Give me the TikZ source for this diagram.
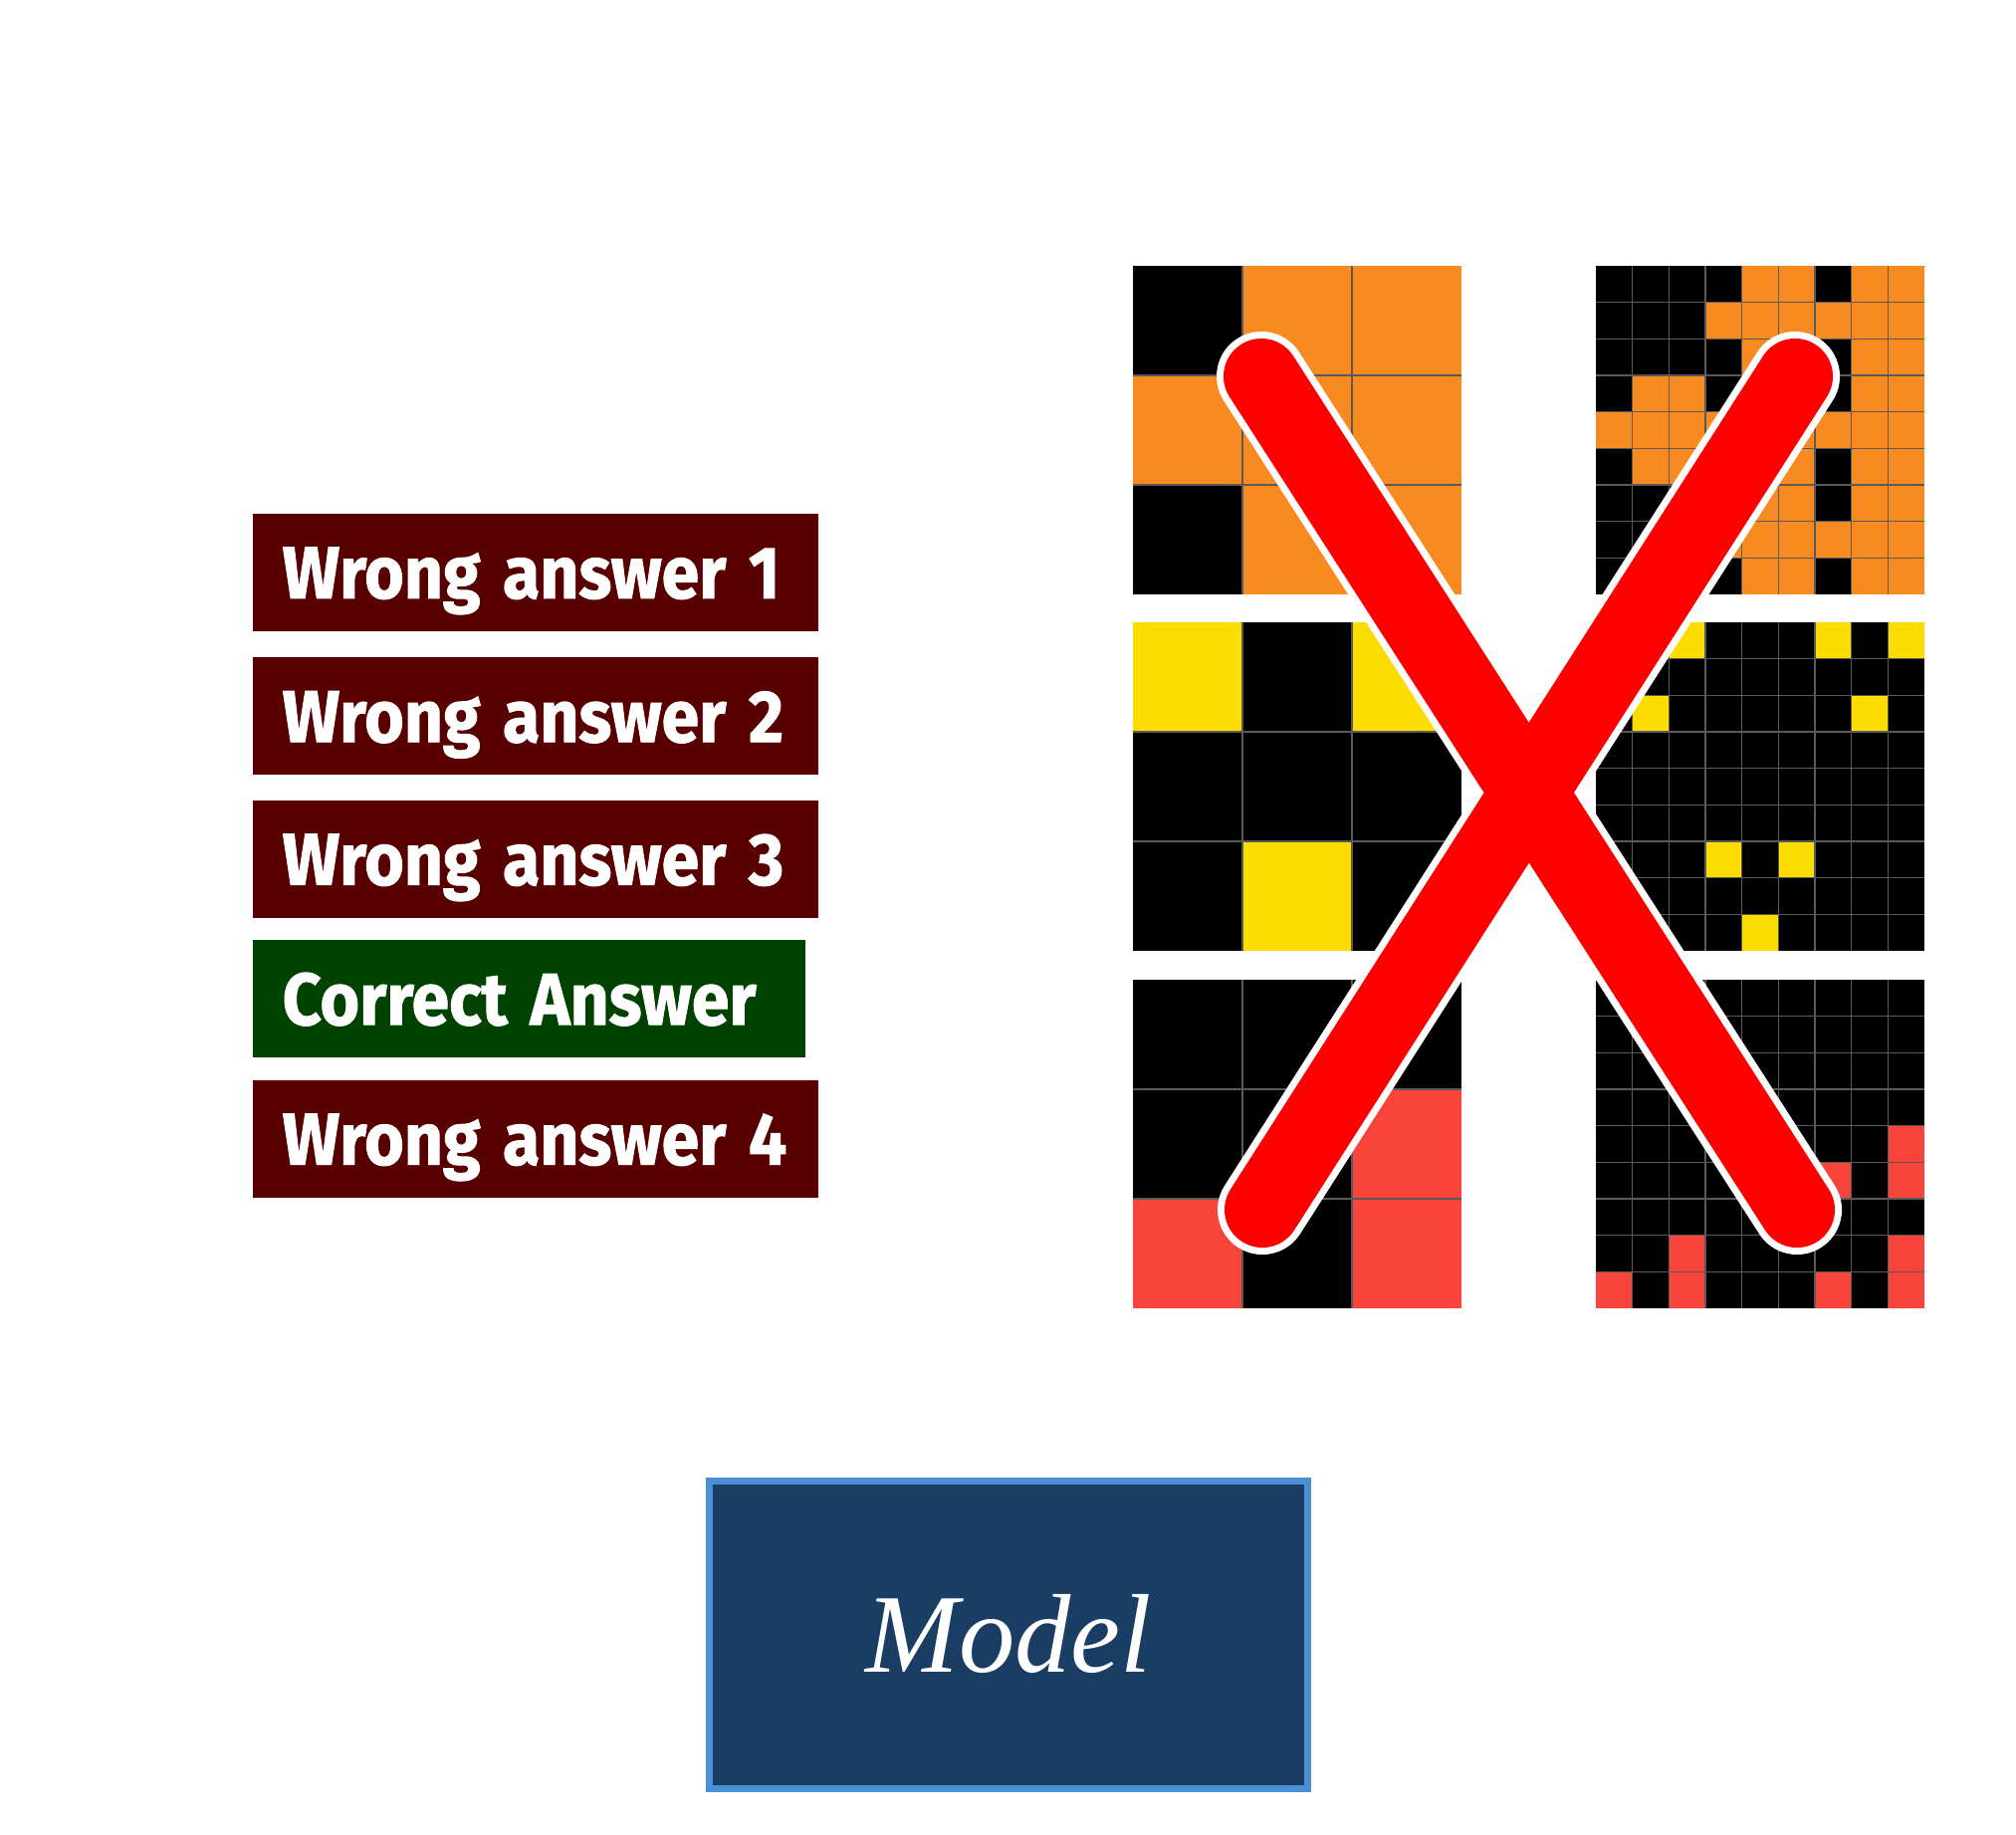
\documentclass[tikz,border=0pt]{standalone}
\usepackage{fontspec}
\usepackage{graphicx}
\usepackage{tikz}
\usetikzlibrary{positioning}
\newfontfamily\answerfont{Fira Sans}[BoldFeatures={FakeBold=1.3}]
\newfontfamily\modelfont{Liberation Serif}
\newcommand{\tight}[1]{\scalebox{0.92}[1]{#1}}

\definecolor{wrongred}{HTML}{580000}
\definecolor{rightgreen}{HTML}{004200}
\definecolor{modelblue}{HTML}{1A3D64}
\definecolor{modeledge}{HTML}{4A90D6}
\definecolor{gridgray}{HTML}{5A5A5A}
\definecolor{arcorange}{HTML}{F88A22}
\definecolor{arcyellow}{HTML}{FDDC00}
\definecolor{arcred}{HTML}{F9443C}

\tikzset{
  answerbox/.style={rectangle, anchor=north west, minimum height=1.18cm, inner xsep=0.3cm,
    text width=5.08cm, align=left, text=white, text height=0.52cm, text depth=0pt,
    font=\answerfont\bfseries\fontsize{21}{24}\selectfont},
  wrongbox/.style={answerbox, fill=wrongred},
  correctbox/.style={answerbox, fill=rightgreen, text width=4.95cm},
  modelbox/.style={rectangle, fill=modelblue, draw=modeledge, line width=0.07cm,
    minimum width=6.01cm, minimum height=3.08cm, text=white, text height=0.75cm, text depth=0pt,
    font=\modelfont\itshape\fontsize{32}{38}\selectfont},
  gridline/.style={draw=gridgray, line width=0.015cm},
  crosswhite/.style={white, line width=0.9cm, line cap=round},
  crossred/.style={red, line width=0.76cm, line cap=round}
}

% 3x3 grid, pattern given as 9 flags
\newcommand{\smallgrid}[2]{%
  \fill[black] (0,0) rectangle (330,330);
  \foreach \r in {0,1,2} \foreach \c in {0,1,2} {
    \pgfmathtruncatemacro\cellon{{#1}[3*\r+\c]}
    \ifnum\cellon=1 \fill[#2] (110*\c,110*\r) rectangle ++(110,110); \fi
  }
  \foreach \k in {1,2} {
    \draw[gridline] (110*\k,0) -- (110*\k,330);
    \draw[gridline] (0,110*\k) -- (330,110*\k);
  }
}

% 9x9 grid, the 3x3 pattern placed in itself
\newcommand{\biggrid}[2]{%
  \fill[black] (0,0) rectangle (330,330);
  \foreach \r in {0,...,8} \foreach \c in {0,...,8} {
    \pgfmathtruncatemacro\blk{3*div(\r,3)+div(\c,3)}
    \pgfmathtruncatemacro\sub{3*mod(\r,3)+mod(\c,3)}
    \pgfmathtruncatemacro\blkon{{#1}[\blk]}
    \pgfmathtruncatemacro\subon{{#1}[\sub]}
    \ifnum\blkon\subon=11 \fill[#2] (110/3*\c,110/3*\r) rectangle ++(110/3,110/3); \fi
  }
  \foreach \k in {1,...,8} {
    \draw[gridline] (110/3*\k,0) -- (110/3*\k,330);
    \draw[gridline] (0,110/3*\k) -- (330,110/3*\k);
  }
}

\begin{document}
\begin{tikzpicture}[x=0.01cm, y=-0.01cm]
  \useasboundingbox (0,0) rectangle (2025,1842);

  % answers
  \node[wrongbox] (wrong1) at (253,515) {\tight{Wrong answer 1}};
  \node[wrongbox, below=0.25cm of wrong1.south west, anchor=north west] (wrong2) {\tight{Wrong answer 2}};
  \node[wrongbox, below=0.24cm of wrong2.south west, anchor=north west] (wrong3) {\tight{Wrong answer 3}};
  \node[correctbox, below=0.21cm of wrong3.south west, anchor=north west] (correct) {\tight{Correct Answer}};
  \node[wrongbox, below=0.21cm of correct.south west, anchor=north west] (wrong4) {\tight{Wrong answer 4}};

  % grids
  \begin{scope}[shift={(1138,267)}] \smallgrid{0,1,1,1,1,1,0,1,1}{arcorange} \end{scope}
  \begin{scope}[shift={(1603,267)}] \biggrid{0,1,1,1,1,1,0,1,1}{arcorange} \end{scope}
  \begin{scope}[shift={(1138,625)}] \smallgrid{1,0,1,0,0,0,0,1,0}{arcyellow} \end{scope}
  \begin{scope}[shift={(1603,625)}] \biggrid{1,0,1,0,0,0,0,1,0}{arcyellow} \end{scope}
  \begin{scope}[shift={(1138,984)}] \smallgrid{0,0,0,0,0,1,1,0,1}{arcred} \end{scope}
  \begin{scope}[shift={(1603,984)}] \biggrid{0,0,0,0,0,1,1,0,1}{arcred} \end{scope}

  % cross
  \coordinate (xtl) at (1267,378);
  \coordinate (xtr) at (1803,378);
  \coordinate (xbl) at (1268,1215);
  \coordinate (xbr) at (1805,1215);
  \draw[crosswhite] (xtl) -- (xbr);
  \draw[crosswhite] (xtr) -- (xbl);
  \draw[crossred] (xtl) -- (xbr);
  \draw[crossred] (xtr) -- (xbl);

  % model
  \node[modelbox] (model) at (1013,1642) {Model};
\end{tikzpicture}
\end{document}
